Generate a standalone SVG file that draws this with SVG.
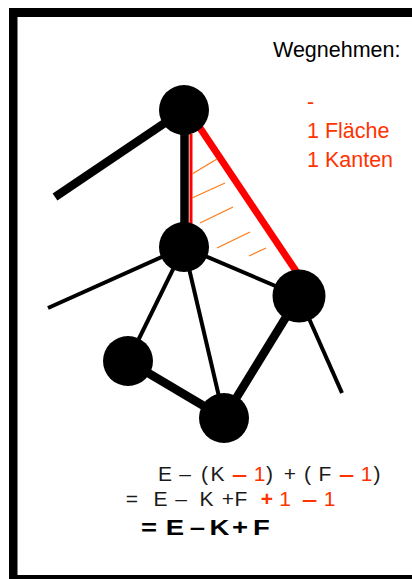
<svg xmlns="http://www.w3.org/2000/svg" width="412" height="579" viewBox="0 0 412 579">
<defs>
<style>
.thick{stroke:#000;stroke-width:8.5;fill:none}
.thin{stroke:#000;stroke-width:4;fill:none}
.hatch{stroke:#ff7a1a;stroke-width:1.2}
.node{fill:#000}
.t{font-family:"Liberation Sans",Arial,sans-serif;font-size:21px;fill:#1a1a1a}
.m{text-anchor:middle}
.r{fill:#ff3300}
.b{font-weight:bold;fill:#000;font-size:22px}
.rb{font-weight:bold}
</style>
</defs>
<rect x="0" y="0" width="412" height="579" fill="#fff"/>
<g id="frame" fill="#000">
<rect x="9" y="8" width="403" height="9"/>
<rect x="9" y="8" width="8.5" height="571"/>
<rect x="9" y="575" width="403" height="4"/>
</g>
<g id="connectors">
<line class="thick" x1="55" y1="197" x2="184" y2="110"/>
<line class="thick" x1="184.5" y1="110" x2="184.5" y2="247" stroke-width="9"/>
<line x1="191" y1="134" x2="191" y2="226" stroke="#ff0000" stroke-width="3"/>
<line x1="196" y1="122" x2="298" y2="274" stroke="#ff0000" stroke-width="7"/>
<line class="thin" x1="48" y1="308" x2="184" y2="247"/>
<line class="thin" x1="184" y1="247" x2="299" y2="296"/>
<line class="thin" x1="184" y1="247" x2="128" y2="361"/>
<line class="thin" x1="184" y1="247" x2="224" y2="418"/>
<line class="thin" x1="299" y1="296" x2="342" y2="393"/>
<line class="thick" x1="128" y1="361" x2="224" y2="418"/>
<line class="thick" x1="299" y1="296" x2="224" y2="418"/>
<line class="hatch" x1="192" y1="174" x2="217" y2="159"/>
<line class="hatch" x1="192" y1="198" x2="225" y2="183"/>
<line class="hatch" x1="200" y1="223" x2="233" y2="207"/>
<line class="hatch" x1="217" y1="248" x2="250" y2="232"/>
<line class="hatch" x1="249" y1="256" x2="266" y2="248"/>
</g>
<g id="node-top"><circle class="node" cx="184" cy="110" r="25"/></g>
<g id="node-middle"><circle class="node" cx="184" cy="247" r="25"/></g>
<g id="node-right"><circle class="node" cx="299" cy="296" r="26.5"/></g>
<g id="node-left"><circle class="node" cx="128" cy="361" r="25"/></g>
<g id="node-bottom"><circle class="node" cx="224" cy="418" r="25"/></g>
<g id="labels">
<text class="t" x="273" y="57" style="font-size:21.5px;fill:#000">Wegnehmen:</text>
<text class="t r" x="307" y="109" style="font-size:21.5px">-</text>
<text class="t r" x="307" y="138" style="font-size:21.5px">1 Fläche</text>
<text class="t r" x="307" y="167" style="font-size:21.5px">1 Kanten</text>
</g>
<g id="formula">
<text class="t m" y="481"><tspan x="165">E</tspan><tspan x="185">–</tspan><tspan x="204.5">(</tspan><tspan x="217.5">K</tspan><tspan class="r" x="259.5">1</tspan><tspan x="269.5">)</tspan><tspan x="290">+</tspan><tspan x="307.5">(</tspan><tspan x="325">F</tspan><tspan class="r" x="366.5">1</tspan><tspan x="377">)</tspan></text>
<text class="t m r rb" transform="translate(239.5,481) scale(1.3,1)" x="0" y="0">–</text>
<text class="t m r rb" transform="translate(346.5,481) scale(1.3,1)" x="0" y="0">–</text>
<text class="t m" y="506"><tspan x="132">=</tspan><tspan x="160.5">E</tspan><tspan x="181">–</tspan><tspan x="206.5">K</tspan><tspan x="228">+</tspan><tspan x="241">F</tspan><tspan class="r rb" x="267">+</tspan><tspan class="r" x="285">1</tspan><tspan class="r" x="329.5">1</tspan></text>
<text class="t m r rb" transform="translate(309.5,506) scale(1.3,1)" x="0" y="0">–</text>
<g transform="translate(0,535) scale(1.25,1)">
<text class="t m b" y="0"><tspan x="119.2">=</tspan><tspan x="140">E</tspan><tspan x="158">–</tspan><tspan x="175.6">K</tspan><tspan x="192">+</tspan><tspan x="209.2">F</tspan></text>
</g>
</g>
</svg>
